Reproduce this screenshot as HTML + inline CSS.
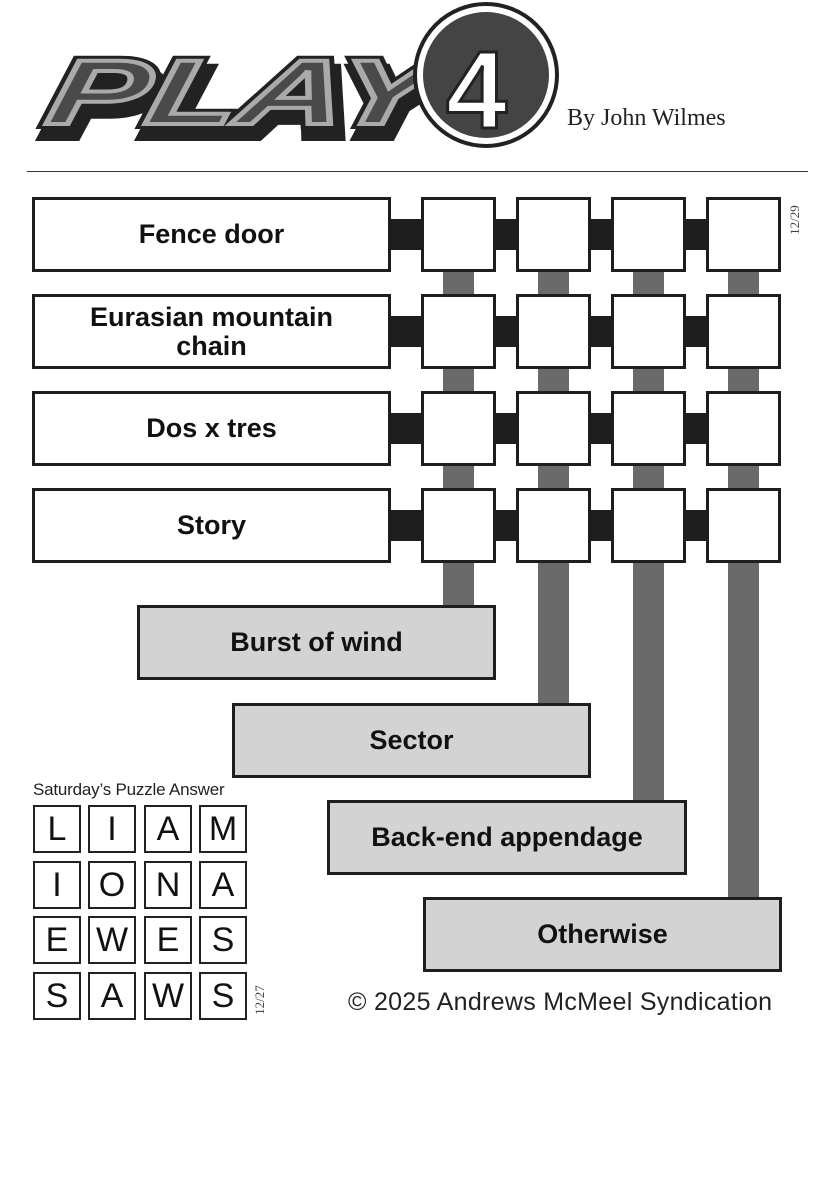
<!DOCTYPE html>
<html><head><style>
body{margin:0;width:819px;height:1182px;background:#fff;position:relative;overflow:hidden;font-family:"Liberation Sans",sans-serif}
div{position:absolute;box-sizing:border-box}
.b{border:3px solid #1e1e1e;background:#fff}
.clue{border:3px solid #1e1e1e;background:#fff;display:flex;align-items:center;justify-content:center;text-align:center;font-weight:bold;font-size:27px;line-height:29px;color:#111}
.g{background:#d3d3d3}
.bar{background:#6a6a6a;width:31px}
.blk{background:#1e1e1e;height:31px}
.a{border:2.5px solid #222;width:48px;height:48px;font-size:34px;display:flex;align-items:center;justify-content:center;color:#111;background:#fff}
</style></head><body>
<svg style="position:absolute;left:0;top:0" width="819" height="172">
<g font-family="Liberation Sans" font-weight="bold" font-style="italic" font-size="92" transform="skewX(-12)">
<text x="76" y="134" fill="#333" stroke="#222" stroke-width="14" textLength="385" lengthAdjust="spacingAndGlyphs">PLAY</text>
<text x="70" y="124" fill="#4a4a4a" stroke="#222" stroke-width="10" textLength="385" lengthAdjust="spacingAndGlyphs">PLAY</text>
<text x="70" y="124" fill="#4a4a4a" stroke="#aaa" stroke-width="4" textLength="385" lengthAdjust="spacingAndGlyphs">PLAY</text>
</g>
<circle cx="486" cy="75" r="71" fill="#fff" stroke="#222" stroke-width="4"/>
<circle cx="486" cy="75" r="63" fill="#444"/>
<text x="446" y="128" font-family="Liberation Sans" font-weight="bold" font-size="110" fill="#fff" stroke="#222" stroke-width="3">4</text>
<text x="567" y="125" font-family="Liberation Serif" font-size="24" fill="#222">By John Wilmes</text>
<line x1="27" y1="172" x2="808" y2="172" stroke="#333" stroke-width="2"/>
</svg>

<div class="bar" style="left:443px;top:260px;height:350px"></div>
<div class="bar" style="left:538px;top:260px;height:448px"></div>
<div class="bar" style="left:633px;top:260px;height:545px"></div>
<div class="bar" style="left:728px;top:260px;height:642px"></div>

<div class="blk" style="left:385px;top:219px;width:330px"></div>
<div class="blk" style="left:385px;top:316px;width:330px"></div>
<div class="blk" style="left:385px;top:413px;width:330px"></div>
<div class="blk" style="left:385px;top:510px;width:330px"></div>

<div class="clue" style="left:32px;top:197px;width:359px;height:75px">Fence door</div>
<div class="clue" style="left:32px;top:294px;width:359px;height:75px">Eurasian mountain<br>chain</div>
<div class="clue" style="left:32px;top:391px;width:359px;height:75px">Dos x tres</div>
<div class="clue" style="left:32px;top:488px;width:359px;height:75px">Story</div>

<div class="b" style="left:421px;top:197px;width:75px;height:75px"></div>
<div class="b" style="left:516px;top:197px;width:75px;height:75px"></div>
<div class="b" style="left:611px;top:197px;width:75px;height:75px"></div>
<div class="b" style="left:706px;top:197px;width:75px;height:75px"></div>
<div class="b" style="left:421px;top:294px;width:75px;height:75px"></div>
<div class="b" style="left:516px;top:294px;width:75px;height:75px"></div>
<div class="b" style="left:611px;top:294px;width:75px;height:75px"></div>
<div class="b" style="left:706px;top:294px;width:75px;height:75px"></div>
<div class="b" style="left:421px;top:391px;width:75px;height:75px"></div>
<div class="b" style="left:516px;top:391px;width:75px;height:75px"></div>
<div class="b" style="left:611px;top:391px;width:75px;height:75px"></div>
<div class="b" style="left:706px;top:391px;width:75px;height:75px"></div>
<div class="b" style="left:421px;top:488px;width:75px;height:75px"></div>
<div class="b" style="left:516px;top:488px;width:75px;height:75px"></div>
<div class="b" style="left:611px;top:488px;width:75px;height:75px"></div>
<div class="b" style="left:706px;top:488px;width:75px;height:75px"></div>

<div style="left:780px;top:200px;width:30px;height:40px;font-family:'Liberation Serif';font-size:13px;color:#444;transform:rotate(-90deg);transform-origin:center;display:flex;align-items:center;justify-content:center">12/29</div>

<div class="clue g" style="left:137px;top:605px;width:359px;height:75px">Burst of wind</div>
<div class="clue g" style="left:232px;top:703px;width:359px;height:75px">Sector</div>
<div class="clue g" style="left:327px;top:800px;width:360px;height:75px">Back-end appendage</div>
<div class="clue g" style="left:423px;top:897px;width:359px;height:75px">Otherwise</div>

<div style="left:33px;top:780px;font-size:17px;color:#222;letter-spacing:-0.2px">Saturday’s Puzzle Answer</div>
<div class="a" style="left:33px;top:805px">L</div><div class="a" style="left:88px;top:805px">I</div><div class="a" style="left:144px;top:805px">A</div><div class="a" style="left:199px;top:805px">M</div>
<div class="a" style="left:33px;top:861px">I</div><div class="a" style="left:88px;top:861px">O</div><div class="a" style="left:144px;top:861px">N</div><div class="a" style="left:199px;top:861px">A</div>
<div class="a" style="left:33px;top:916px">E</div><div class="a" style="left:88px;top:916px">W</div><div class="a" style="left:144px;top:916px">E</div><div class="a" style="left:199px;top:916px">S</div>
<div class="a" style="left:33px;top:972px">S</div><div class="a" style="left:88px;top:972px">A</div><div class="a" style="left:144px;top:972px">W</div><div class="a" style="left:199px;top:972px">S</div>
<div style="left:240px;top:990px;width:40px;height:20px;font-family:'Liberation Serif';font-size:13px;color:#444;transform:rotate(-90deg);display:flex;align-items:center;justify-content:center">12/27</div>

<div style="left:348px;top:988px;font-size:25px;color:#222;letter-spacing:0.3px">© 2025 Andrews McMeel Syndication</div>
</body></html>
